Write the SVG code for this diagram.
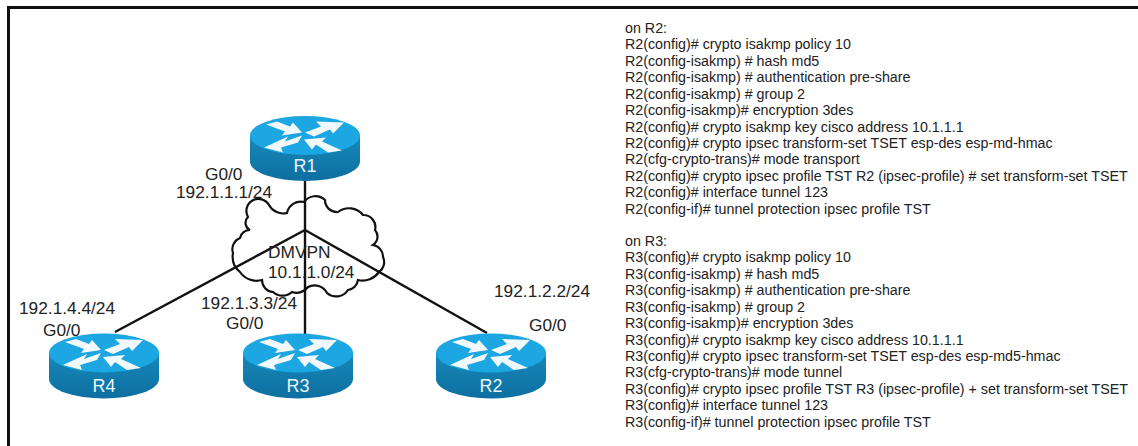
<svg xmlns="http://www.w3.org/2000/svg" width="1138" height="446" viewBox="0 0 1138 446">
<style>
text{font-family:"Liberation Sans",Arial,sans-serif;fill:#222}
.l{font-size:17.3px}
.c{font-size:14.28px}
.n{font-size:18px;fill:#e8f6fc;text-anchor:middle}
.w{stroke:#111;stroke-width:2.4;fill:none}
</style>
<defs>
<linearGradient id="body" x1="0" y1="0" x2="0" y2="1"><stop offset="0" stop-color="#1788ba"/><stop offset="1" stop-color="#0d6f9f"/></linearGradient>
<g id="router">
<path d="M-55,0V26A55,19.5 0 0 0 55,26V0Z" fill="url(#body)"/>
<ellipse cx="0" cy="0" rx="55" ry="19.5" fill="#1ca6e2"/>
<g fill="#f2f9fc">
<polygon points="-39,-11 -28,-14 -15,-9 -12,-13 -3,-3 -23,0 -20,-4"/>
<polygon points="0,-3 16,-9 11,-14 39,-13 28,-2 25,-6 9,1"/>
<polygon points="-3,0 -20,6 -17,1 -41,12 -22,17 -24,12 -7,7"/>
<polygon points="37,15 23,17 11,9 7,14 -1,4 21,2 17,6"/>
</g>
</g>
</defs>
<rect width="1138" height="446" fill="#fff"/>
<path d="M8.5,446V7.5H1138" fill="none" stroke="#111" stroke-width="3"/>
<g id="cloud">
<path d="M248,217A12,12 0 0 1 269,205A16,16 0 0 0 287,213A14,14 0 0 1 304,202A14,14 0 0 1 325,200A12,12 0 0 0 338,212A18,18 0 0 1 363,215A12,12 0 0 1 375,230A10,10 0 0 1 373,245A12,12 0 0 1 383,257A12,12 0 0 1 379,272A20,20 0 0 1 358,280A12,12 0 0 1 348,290A14,14 0 0 1 327,293A14,14 0 0 0 308,287A14,14 0 0 1 292,292A14,14 0 0 1 273,292A12,12 0 0 1 262,280A20,20 0 0 1 240,272A20,20 0 0 1 233,253A12,12 0 0 1 240,238A10,10 0 0 1 250,230A8,8 0 0 1 248,217Z" fill="#fff" stroke="#111" stroke-width="2.2"/>
</g>
<g id="connectors">
<line class="w" x1="305" y1="178" x2="305" y2="230"/>
<line class="w" x1="305" y1="230" x2="305" y2="334"/>
<line class="w" x1="305" y1="230" x2="115" y2="332"/>
<line class="w" x1="305" y1="230" x2="487" y2="333"/>
</g>
<g id="R1"><use href="#router" transform="translate(305,135.5)"/><text class="n" x="305" y="172">R1</text></g>
<g id="R4"><use href="#router" transform="translate(104,353)"/><text class="n" x="104" y="392">R4</text></g>
<g id="R3"><use href="#router" transform="translate(298,353)"/><text class="n" x="298" y="392">R3</text></g>
<g id="R2"><use href="#router" transform="translate(491,353)"/><text class="n" x="491" y="392">R2</text></g>
<g id="labels">
<text class="l" x="205" y="180">G0/0</text>
<text class="l" x="176" y="198">192.1.1.1/24</text>
<text class="l" x="19" y="314">192.1.4.4/24</text>
<text class="l" x="43" y="336">G0/0</text>
<text class="l" x="201" y="309">192.1.3.3/24</text>
<text class="l" x="226" y="329">G0/0</text>
<text class="l" x="494" y="297">192.1.2.2/24</text>
<text class="l" x="529" y="331">G0/0</text>
<text class="l" x="268" y="258">DMVPN</text>
<text class="l" x="268" y="278">10.1.1.0/24</text>
</g>
<g id="config-r2">
<text class="c" x="625" y="33">on R2:</text>
<text class="c" x="625" y="49.4">R2(config)# crypto isakmp policy 10</text>
<text class="c" x="625" y="65.8">R2(config-isakmp) # hash md5</text>
<text class="c" x="625" y="82.3">R2(config-isakmp) # authentication pre-share</text>
<text class="c" x="625" y="98.7">R2(config-isakmp) # group 2</text>
<text class="c" x="625" y="115.1">R2(config-isakmp)# encryption 3des</text>
<text class="c" x="625" y="131.5">R2(config)# crypto isakmp key cisco address 10.1.1.1</text>
<text class="c" x="625" y="147.9">R2(config)# crypto ipsec transform-set TSET esp-des esp-md-hmac</text>
<text class="c" x="625" y="164.4">R2(cfg-crypto-trans)# mode transport</text>
<text class="c" x="625" y="180.8">R2(config)# crypto ipsec profile TST R2 (ipsec-profile) # set transform-set TSET</text>
<text class="c" x="625" y="197.2">R2(config)# interface tunnel 123</text>
<text class="c" x="625" y="213.6">R2(config-if)# tunnel protection ipsec profile TST</text>
</g>
<g id="config-r3">
<text class="c" x="625" y="246">on R3:</text>
<text class="c" x="625" y="262.4">R3(config)# crypto isakmp policy 10</text>
<text class="c" x="625" y="278.8">R3(config-isakmp) # hash md5</text>
<text class="c" x="625" y="295.3">R3(config-isakmp) # authentication pre-share</text>
<text class="c" x="625" y="311.7">R3(config-isakmp) # group 2</text>
<text class="c" x="625" y="328.1">R3(config-isakmp)# encryption 3des</text>
<text class="c" x="625" y="344.5">R3(config)# crypto isakmp key cisco address 10.1.1.1</text>
<text class="c" x="625" y="360.9">R3(config)# crypto ipsec transform-set TSET esp-des esp-md5-hmac</text>
<text class="c" x="625" y="377.4">R3(cfg-crypto-trans)# mode tunnel</text>
<text class="c" x="625" y="393.8">R3(config)# crypto ipsec profile TST R3 (ipsec-profile) + set transform-set TSET</text>
<text class="c" x="625" y="410.2">R3(config)# interface tunnel 123</text>
<text class="c" x="625" y="426.6">R3(config-if)# tunnel protection ipsec profile TST</text>
</g>
</svg>
